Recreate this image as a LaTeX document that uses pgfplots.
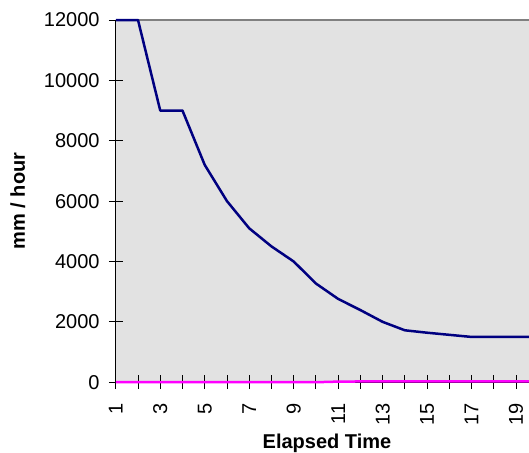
\documentclass[border=0pt]{standalone}
\usepackage{pgfplots}
\pgfplotsset{compat=1.18}
\usepackage{fontspec}
\setmainfont{Liberation Sans}
\definecolor{plotbg}{HTML}{E2E2E2}
\definecolor{navyline}{HTML}{000080}
\definecolor{magline}{HTML}{FF00FF}
\begin{document}
\begin{tikzpicture}
\begin{axis}[
    name=ax,
    scale only axis,
    width=422.3bp,
    height=362bp,
    xmin=1, xmax=20,
    ymin=0, ymax=12000,
    axis lines*=left,
    axis line style={line width=1.2bp, black},
    axis background/.style={fill=plotbg},
    clip=false,
    xtick={1,...,20},
    xticklabels={1,,3,,5,,7,,9,,11,,13,,15,,17,,19,},
    ytick={0,2000,...,12000},
    tick align=center,
    major tick length=14bp,
    tick style={line width=0.9bp, black},
    scaled y ticks=false,
    /pgf/number format/assume math mode=true,
    /pgf/number format/1000 sep={},
    tick label style={font=\fontsize{20bp}{24bp}\selectfont},
    xticklabel style={rotate=90, anchor=east, inner sep=0pt, xshift=-14bp},
    yticklabel style={anchor=east, inner sep=0pt, xshift=-9bp},
    xlabel={Elapsed Time},
    ylabel={mm / hour},
    label style={font=\fontsize{20bp}{24bp}\selectfont\bfseries},
    xlabel style={at={(rel axis cs:0.5,0)}, anchor=base, yshift=-66bp},
    ylabel style={at={(rel axis cs:0,0.5)}, anchor=center, yshift=98bp},
]
\draw[line width=1.8bp, gray] (rel axis cs:0,1) -- (rel axis cs:1,1);
\addplot[navyline, line width=2.5bp, line join=round] coordinates {
    (1,12000) (2,12000) (3,9000) (4,9000) (5,7200) (6,6000) (7,5100)
    (8,4500) (9,4000) (10,3270) (11,2760) (12,2390) (13,2000) (14,1720)
    (15,1640) (16,1570) (17,1500) (18,1500) (19,1500) (20,1500)
};
\addplot[magline, line width=2.5bp] coordinates {
    (1,0) (2,0) (3,0) (4,0) (5,0) (6,0) (7,0) (8,0) (9,0) (10,0)
    (11,20) (12,25) (13,25) (14,30) (15,30) (16,30) (17,30) (18,30) (19,30) (20,30)
};
\end{axis}
\pgfresetboundingbox
\path[use as bounding box] ([shift={(-115.7bp,-70bp)}]ax.south west) rectangle ([shift={(-9.3bp,20bp)}]ax.north east);
\end{tikzpicture}
\end{document}
